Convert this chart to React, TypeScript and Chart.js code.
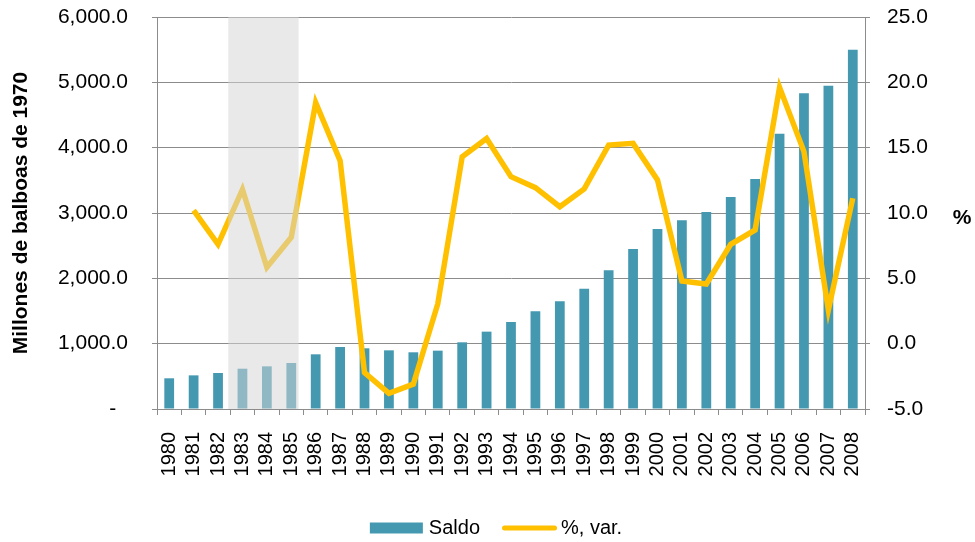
import React, { useEffect, useRef } from 'react';
import { Chart, registerables } from 'chart.js';

Chart.register(...registerables);

const years = ['1980', '1981', '1982', '1983', '1984', '1985', '1986', '1987', '1988', '1989', '1990', '1991', '1992', '1993', '1994', '1995', '1996', '1997', '1998', '1999', '2000', '2001', '2002', '2003', '2004', '2005', '2006', '2007', '2008'];
const saldo = [470, 515, 551, 617, 653, 704, 837, 949, 929, 898, 868, 893, 1021, 1184, 1332, 1495, 1648, 1842, 2123, 2449, 2755, 2888, 3015, 3245, 3520, 4214, 4832, 4949, 5500];
const variacion = [null, 10.2, 7.6, 11.8, 5.85, 8.14, 18.44, 14.0, -2.22, -3.8, -3.09, 3.04, 14.3, 15.7, 12.78, 11.94, 10.48, 11.84, 15.2, 15.33, 12.53, 4.8, 4.57, 7.6, 8.7, 19.62, 14.7, 2.58, 11.13];
const leftTickLabels = ['-  ', '1,000.0', '2,000.0', '3,000.0', '4,000.0', '5,000.0', '6,000.0'];
const rightTickLabels = ['-5.0', '0.0', '5.0', '10.0', '15.0', '20.0', '25.0'];
const shadedYears = ['1983', '1984', '1985'];
const seriesLabels = ['Saldo', '%, var.'];
const leftTitle = 'Millones de balboas de 1970';
const rightTitle = '%';

const FONT = '"Liberation Sans", Arial, Helvetica, sans-serif';
const BAR_COLOR = '#4499B1';
const LINE_COLOR = '#FFC000';
const GRID_COLOR = '#8c8c8c';

const shadePlugin = {
  id: 'shade',
  afterDatasetsDraw(chart: any) {
    const xs = chart.scales.x;
    const area = chart.chartArea;
    const i0 = years.indexOf(shadedYears[0]);
    const i1 = years.indexOf(shadedYears[shadedYears.length - 1]);
    const cat = xs.getPixelForValue(1) - xs.getPixelForValue(0);
    const x0 = xs.getPixelForValue(i0) - cat * 0.58;
    const x1 = xs.getPixelForValue(i1) + cat * 0.3;
    const ctx = chart.ctx;
    ctx.save();
    ctx.fillStyle = 'rgba(213,213,213,0.52)';
    ctx.fillRect(x0, area.top, x1 - x0, area.bottom - area.top);
    ctx.restore();
  },
};

const legendPlugin = {
  id: 'customLegend',
  afterDraw(chart: any) {
    const ctx = chart.ctx;
    ctx.save();
    ctx.font = `20px ${FONT}`;
    ctx.textBaseline = 'middle';
    const cy = 528;
    const boxW = 53;
    const lineW = 55;
    const w0 = ctx.measureText(seriesLabels[0]).width;
    const w1 = ctx.measureText(seriesLabels[1]).width;
    const total = boxW + 6 + w0 + 22 + lineW + 4 + w1;
    let x = 496 - total / 2;
    ctx.fillStyle = BAR_COLOR;
    ctx.fillRect(x, cy - 5.5, boxW, 11);
    x += boxW + 6;
    ctx.fillStyle = '#000';
    ctx.fillText(seriesLabels[0], x, cy);
    x += w0 + 22;
    ctx.strokeStyle = LINE_COLOR;
    ctx.lineWidth = 5;
    ctx.lineCap = 'round';
    ctx.beginPath();
    ctx.moveTo(x + 2.5, cy);
    ctx.lineTo(x + lineW - 2.5, cy);
    ctx.stroke();
    x += lineW + 4;
    ctx.fillStyle = '#000';
    ctx.fillText(seriesLabels[1], x, cy);
    ctx.font = `bold 21px ${FONT}`;
    ctx.textAlign = 'center';
    ctx.fillText(rightTitle, 962, 218);
    ctx.restore();
  },
};

export default function App() {
  const ref = useRef<HTMLCanvasElement>(null);
  useEffect(() => {
    document.body.style.margin = '0';
    if (!ref.current) return;
    const chart = new Chart(ref.current, {
      type: 'bar',
      data: {
        labels: years,
        datasets: [
          {
            type: 'bar',
            label: seriesLabels[0],
            data: saldo,
            backgroundColor: BAR_COLOR,
            barPercentage: 0.4,
            categoryPercentage: 1.0,
            yAxisID: 'y',
            order: 2,
          },
          {
            type: 'line',
            label: seriesLabels[1],
            data: variacion as any,
            borderColor: LINE_COLOR,
            backgroundColor: LINE_COLOR,
            borderWidth: 5.5,
            pointRadius: 0,
            tension: 0,
            yAxisID: 'y1',
            order: 1,
          },
        ],
      },
      options: {
        animation: false,
        responsive: true,
        maintainAspectRatio: false,
        layout: { padding: { top: 17, left: 0, right: 0, bottom: 0 } },
        plugins: {
          legend: { display: false },
          tooltip: { enabled: false },
        },
        scales: {
          x: {
            offset: true,
            grid: { offset: true, drawOnChartArea: false, drawTicks: true, tickLength: 6, color: GRID_COLOR, lineWidth: 1 },
            border: { display: true, color: GRID_COLOR, width: 1 },
            ticks: {
              minRotation: 90,
              maxRotation: 90,
              autoSkip: false,
              padding: 17,
              color: '#000',
              font: { family: FONT, size: 20 },
            },
            afterFit: (s: any) => { s.height = 133; s.paddingLeft = 0; s.paddingRight = 0; },
          },
          y: {
            position: 'left',
            min: 0,
            max: 6000,
            ticks: {
              stepSize: 1000,
              padding: 24,
              color: '#000',
              font: { family: FONT, size: 21 },
              callback: (_v: any, i: number) => leftTickLabels[i],
            },
            grid: { color: GRID_COLOR, tickLength: 5, lineWidth: 1 },
            border: { color: GRID_COLOR, width: 1 },
            title: {
              display: true,
              text: leftTitle,
              color: '#000',
              font: { family: FONT, size: 21, weight: 'bold' },
              padding: { top: 9, bottom: 0 },
            },
            afterFit: (s: any) => { s.width = 157; s.paddingTop = 0; s.paddingBottom = 0; },
          },
          y1: {
            position: 'right',
            min: -5,
            max: 25,
            ticks: {
              stepSize: 5,
              padding: 17,
              color: '#000',
              font: { family: FONT, size: 21 },
              callback: (_v: any, i: number) => rightTickLabels[i],
            },
            grid: { drawOnChartArea: false, tickLength: 5, color: GRID_COLOR, lineWidth: 1 },
            border: { color: GRID_COLOR, width: 1 },
            afterFit: (s: any) => { s.width = 110; s.paddingTop = 0; s.paddingBottom = 0; },
          },
        },
      } as any,
      plugins: [shadePlugin, legendPlugin],
    });
    return () => chart.destroy();
  }, []);
  return (
    <div style={{ position: 'relative', width: 975, height: 542 }}>
      <canvas ref={ref} />
    </div>
  );
}
